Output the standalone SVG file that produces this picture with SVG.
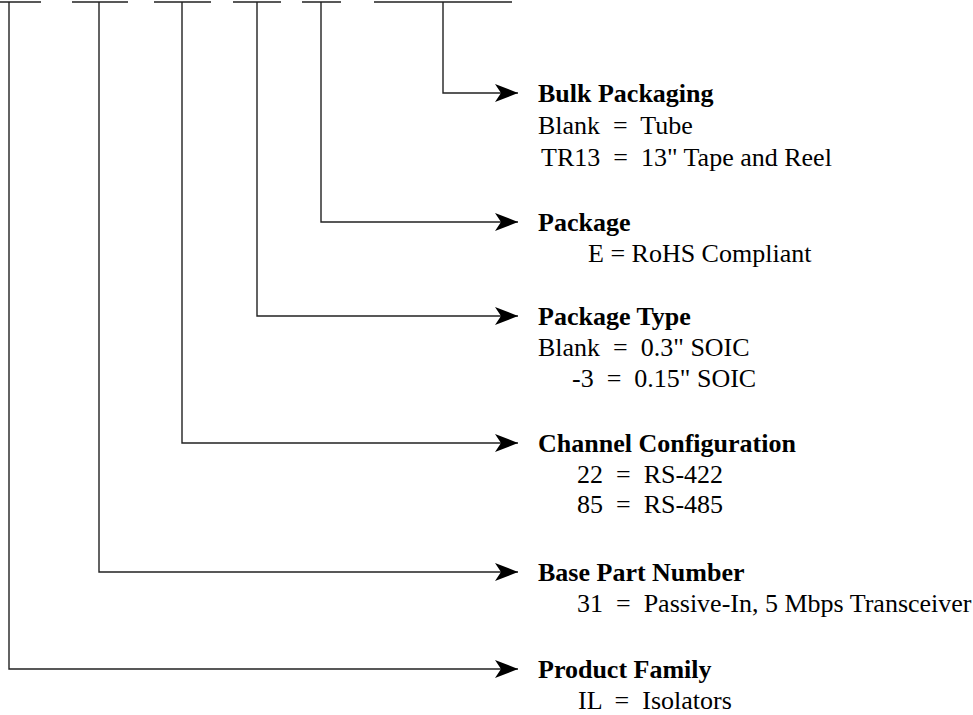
<svg xmlns="http://www.w3.org/2000/svg" width="973" height="715" viewBox="0 0 973 715">
<defs>
<style>
.ln{stroke:#222;stroke-width:1.4;fill:none}
.t{font-family:"Liberation Serif","Times New Roman",serif;font-size:26px;fill:#000;white-space:pre}
.b{font-weight:bold}
</style>
<marker id="ah" markerUnits="userSpaceOnUse" markerWidth="23" markerHeight="20" refX="23" refY="10" orient="auto" viewBox="0 0 23 20">
<path d="M0,1 L23,10 L0,19 L6,10 z" fill="#000"/>
</marker>
</defs>
<g id="connectors">
<path class="ln" d="M0,2 H41 M72,2 H128 M154,2 H211 M233,2 H281 M302,2 H341 M374,2 H512"/>
<path class="ln" d="M443,2 V93 H518" marker-end="url(#ah)"/>
<path class="ln" d="M321,2 V222 H518" marker-end="url(#ah)"/>
<path class="ln" d="M257,2 V316 H518" marker-end="url(#ah)"/>
<path class="ln" d="M182,2 V443 H518" marker-end="url(#ah)"/>
<path class="ln" d="M99,2 V572 H518" marker-end="url(#ah)"/>
<path class="ln" d="M9,2 V669 H518" marker-end="url(#ah)"/>
</g>
<g id="bulk">
<text class="t b" x="538" y="102">Bulk Packaging</text>
<text class="t" x="538" y="134" xml:space="preserve">Blank  =  Tube</text>
<text class="t" x="541" y="166" xml:space="preserve">TR13  =  13" Tape and Reel</text>
</g>
<g id="package">
<text class="t b" x="538" y="231">Package</text>
<text class="t" x="588" y="262">E = RoHS Compliant</text>
</g>
<g id="package-type">
<text class="t b" x="538" y="325">Package Type</text>
<text class="t" x="538" y="356" xml:space="preserve">Blank  =  0.3" SOIC</text>
<text class="t" x="572" y="387" xml:space="preserve">-3  =  0.15" SOIC</text>
</g>
<g id="channel">
<text class="t b" x="538" y="452">Channel Configuration</text>
<text class="t" x="577" y="483" xml:space="preserve">22  =  RS-422</text>
<text class="t" x="577" y="513" xml:space="preserve">85  =  RS-485</text>
</g>
<g id="base">
<text class="t b" x="538" y="581">Base Part Number</text>
<text class="t" x="577" y="612" xml:space="preserve">31  =  Passive-In, 5 Mbps Transceiver</text>
</g>
<g id="family">
<text class="t b" x="538" y="678">Product Family</text>
<text class="t" x="578" y="709" xml:space="preserve">IL  =  Isolators</text>
</g>
</svg>
